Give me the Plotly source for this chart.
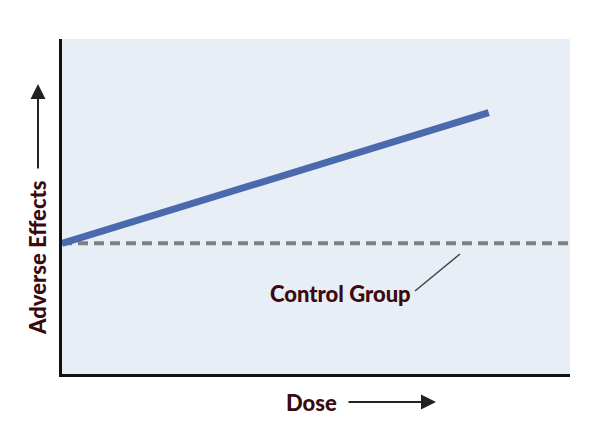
import plotly.graph_objects as go

# Data (axis range 0-10 on both axes)
dose = [0, 8.4]
adverse_effects = [3.9, 7.8]
control_dose = [0, 10]
control_level = [3.9, 3.9]

W, H = 605, 439
OFF = 8  # page body margin offset
L, T = 62 - OFF, 39 - OFF
pw, ph = 508, 335
R, B = W - L - pw, H - T - ph

def px(x):
    return (x - OFF - L) / pw

def py(y):
    return (T + ph - (y - OFF)) / ph

text_col = "#3a0a0c"
font_fam = "Lato, 'Open Sans', sans-serif"

fig = go.Figure()
fig.add_trace(go.Scatter(x=control_dose, y=control_level, mode="lines",
                         line=dict(color="#808080", width=4, dash="10px,6px"),
                         hoverinfo="skip", showlegend=False))
fig.add_trace(go.Scatter(x=dose, y=adverse_effects, mode="lines",
                         line=dict(color="#4a6aad", width=7),
                         hoverinfo="skip", showlegend=False))

annotations = [
    dict(text="Adverse Effects", xref="paper", yref="paper",
         x=px(37), y=py(258), textangle=-90, showarrow=False,
         xanchor="center", yanchor="middle",
         font=dict(size=22, color=text_col, family=font_fam, weight=900)),
    dict(text="", xref="paper", yref="paper", x=px(38), y=py(84),
         ax=0, ay=86, showarrow=True, arrowhead=2, arrowsize=1.5,
         arrowwidth=2, arrowcolor="#222222"),
    dict(text="Dose", xref="paper", yref="paper",
         x=px(311), y=py(402), showarrow=False,
         xanchor="center", yanchor="middle",
         font=dict(size=22, color=text_col, family=font_fam, weight=900)),
    dict(text="", xref="paper", yref="paper", x=px(436), y=py(402),
         ax=-89, ay=0, showarrow=True, arrowhead=2, arrowsize=1.5,
         arrowwidth=2, arrowcolor="#222222"),
    dict(text="Control Group", xref="paper", yref="paper",
         x=px(340), y=py(293), showarrow=False,
         xanchor="center", yanchor="middle",
         font=dict(size=22, color=text_col, family=font_fam, weight=900)),
]

shapes = [
    dict(type="line", xref="paper", yref="paper",
         x0=px(415), y0=py(291), x1=px(460), y1=py(254),
         line=dict(color="#444444", width=1.5)),
]

fig.update_layout(
    width=W, height=H,
    margin=dict(l=L, r=R, t=T, b=B),
    paper_bgcolor="white",
    plot_bgcolor="#e8eef6",
    annotations=annotations,
    shapes=shapes,
    xaxis=dict(range=[0, 10], showgrid=False, zeroline=False, showticklabels=False,
               ticks="", showline=True, linecolor="#111111", linewidth=3),
    yaxis=dict(range=[0, 10], showgrid=False, zeroline=False, showticklabels=False,
               ticks="", showline=True, linecolor="#111111", linewidth=3),
)

fig.write_html("out.html")
